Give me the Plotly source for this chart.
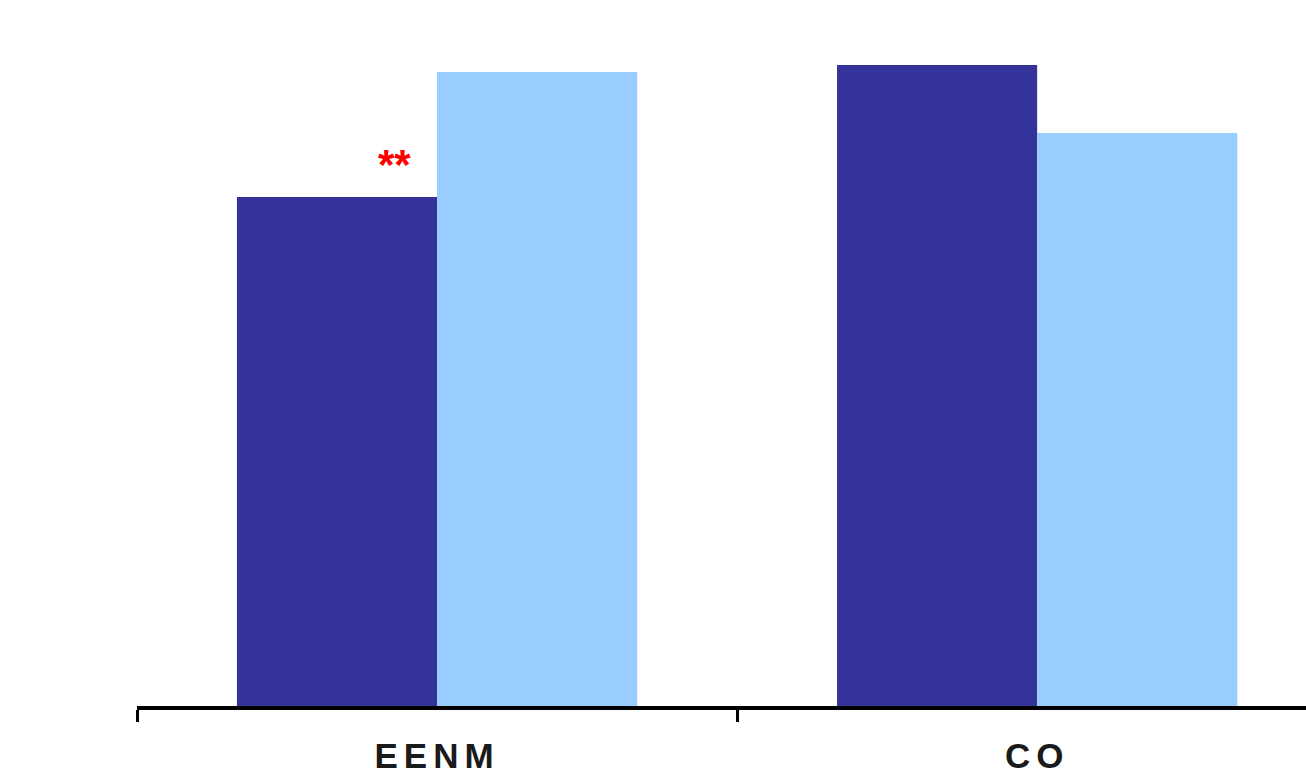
import plotly.graph_objects as go

categories = ["EENM", "CO"]
series_a = [50.9, 64.1]   # dark bars
series_b = [63.4, 57.3]   # light bars

fig = go.Figure()
fig.add_trace(go.Bar(x=categories, y=series_a, marker=dict(color="#333399", line=dict(width=0)), name="A"))
fig.add_trace(go.Bar(x=categories, y=series_b, marker=dict(color="#99CCFF", line=dict(width=0)), name="B"))

fig.add_annotation(
    x=-0.071, y=54.2, xref="x", yref="y", text="<b>**</b>", showarrow=False,
    font=dict(color="#FF0000", size=42, family="Liberation Sans"),
)

fig.update_layout(
    width=1306, height=777,
    margin=dict(l=137, r=0, t=0, b=71),
    paper_bgcolor="white", plot_bgcolor="white",
    barmode="group", bargap=0.333, bargroupgap=0,
    showlegend=False,
    xaxis=dict(
        range=[-0.5, 1.448], showline=True, linecolor="black", linewidth=4,
        ticks="outside", tickson="boundaries", ticklen=12, tickwidth=3, tickcolor="black",
        ticklabelstandoff=16, automargin=False,
        tickfont=dict(family="Liberation Sans", size=35, color="#1a1a1a", weight="bold"),
        showgrid=False, zeroline=False,
    ),
    yaxis=dict(range=[0, 70.6], visible=False, showgrid=False, zeroline=False, automargin=False),
)

# widen spacing between letters of the category labels
spacing_js = """
var gd = document.getElementById('{plot_id}');
function spaceLabels() {
  gd.querySelectorAll('.xtick text').forEach(function (t) {
    t.style.letterSpacing = '6px';
  });
}
spaceLabels();
gd.on('plotly_afterplot', spaceLabels);
"""

fig.write_html("out.html", post_script=spacing_js)
